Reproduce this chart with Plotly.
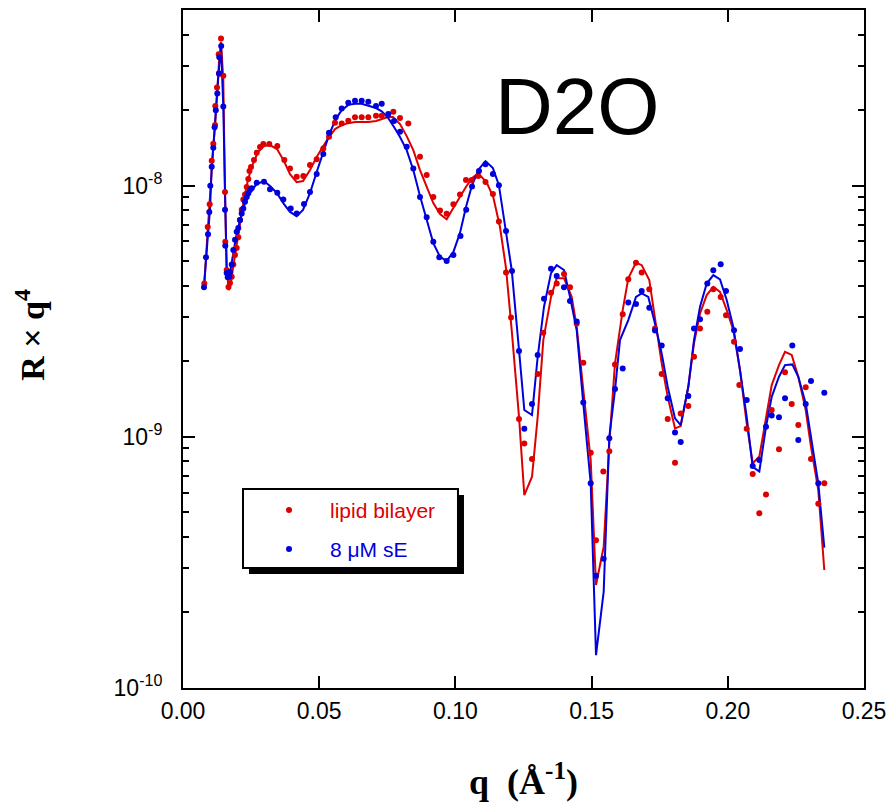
import plotly.graph_objects as go

# Reflectivity data, R x q^4 versus q (1/Å)
q_lipid = [0.00782, 0.00907, 0.00980, 0.01054, 0.01112, 0.01175, 0.01186, 0.01248, 0.01311, 0.01322,
           0.01395, 0.01479, 0.01542, 0.01553, 0.01604, 0.01670, 0.01725, 0.01788, 0.01847, 0.01909,
           0.01971, 0.02030, 0.02093, 0.02155, 0.02214, 0.02276, 0.02339, 0.02397, 0.02441, 0.02497,
           0.02606, 0.02706, 0.02827, 0.02948, 0.03168, 0.03462, 0.03719, 0.03928, 0.04174, 0.04416,
           0.04662, 0.04908, 0.05150, 0.05360, 0.05580, 0.05826, 0.06068, 0.06314, 0.06560, 0.06803,
           0.07085, 0.07295, 0.07720, 0.07966, 0.08271, 0.08700, 0.08946, 0.09189, 0.09435, 0.09680,
           0.09926, 0.10169, 0.10389, 0.10598, 0.10840, 0.11105, 0.11377, 0.11597, 0.11858, 0.12041,
           0.12335, 0.12530, 0.12812, 0.13021, 0.13227, 0.13510, 0.13719, 0.13987, 0.14207, 0.14453,
           0.14695, 0.14967, 0.15162, 0.15430, 0.15650, 0.15859, 0.16142, 0.16347, 0.16630, 0.16839,
           0.17118, 0.17327, 0.17573, 0.17794, 0.18062, 0.18271, 0.18550, 0.18759, 0.18980, 0.19248,
           0.19468, 0.19739, 0.19934, 0.20228, 0.20422, 0.20694, 0.20914, 0.21157, 0.21402, 0.21612,
           0.21879, 0.22100, 0.22346, 0.22588, 0.22860, 0.23054, 0.23322, 0.23543]
r_lipid = [4.08e-9, 6.86e-9, 8.45e-9, 1.258e-8, 1.47e-8, 1.745e-8, 2.08e-8, 2.46e-8, 3.34e-8, 2.80e-8,
           3.86e-8, 2.74e-8, 9.45e-9, 5.98e-9, 4.62e-9, 3.95e-9, 4.10e-9, 4.34e-9, 4.86e-9, 5.30e-9,
           5.65e-9, 6.24e-9, 7.30e-9, 8.02e-9, 8.82e-9, 9.24e-9, 9.89e-9, 1.063e-8, 1.144e-8, 1.187e-8,
           1.266e-8, 1.353e-8, 1.426e-8, 1.466e-8, 1.466e-8, 1.439e-8, 1.266e-8, 1.173e-8, 1.086e-8, 1.093e-8,
           1.209e-8, 1.274e-8, 1.409e-8, 1.567e-8, 1.782e-8, 1.772e-8, 1.815e-8, 1.873e-8, 1.873e-8, 1.873e-8,
           1.90e-8, 1.90e-8, 1.97e-8, 1.86e-8, 1.772e-8, 1.305e-8, 1.103e-8, 9.03e-9, 7.97e-9, 7.74e-9,
           8.44e-9, 9.24e-9, 1.054e-8, 1.054e-8, 1.093e-8, 1.036e-8, 9.27e-9, 7.20e-9, 4.52e-9, 2.99e-9,
           1.177e-9, 9.41e-10, 8.17e-10, 1.78e-9, 2.60e-9, 3.75e-9, 4.08e-9, 4.45e-9, 3.94e-9, 2.83e-9,
           1.974e-9, 8.64e-10, 3.88e-10, 7.28e-10, 8.77e-10, 1.944e-9, 3.08e-9, 4.24e-9, 4.94e-9, 4.52e-9,
           3.87e-9, 2.70e-9, 1.78e-9, 1.177e-9, 7.88e-10, 1.24e-9, 1.326e-9, 2.085e-9, 2.70e-9, 3.15e-9,
           3.87e-9, 3.61e-9, 3.05e-9, 2.39e-9, 1.608e-9, 1.077e-9, 7.11e-10, 4.96e-10, 5.90e-10, 1.279e-9,
           8.93e-10, 1.807e-9, 1.351e-9, 1.114e-9, 1.575e-9, 8.17e-10, 5.42e-10, 6.53e-10]

q_se = [0.00771, 0.00844, 0.00918, 0.00965, 0.01002, 0.01054, 0.01112, 0.01160, 0.01205, 0.01259,
        0.01322, 0.01333, 0.01402, 0.01479, 0.01542, 0.01553, 0.01604, 0.01641, 0.01700, 0.01725,
        0.01788, 0.01847, 0.01909, 0.01971, 0.02030, 0.02093, 0.02155, 0.02214, 0.02276, 0.02339,
        0.02397, 0.02460, 0.02522, 0.02706, 0.02974, 0.03194, 0.03462, 0.03682, 0.03954, 0.04174,
        0.04442, 0.04662, 0.04908, 0.05150, 0.05360, 0.05606, 0.05826, 0.06068, 0.06314, 0.06560,
        0.06803, 0.07085, 0.07295, 0.07536, 0.07746, 0.07966, 0.08212, 0.08454, 0.08700, 0.08946,
        0.09189, 0.09409, 0.09680, 0.09926, 0.10187, 0.10396, 0.10610, 0.10866, 0.11105, 0.11377,
        0.11597, 0.11858, 0.12078, 0.12335, 0.12530, 0.12812, 0.13021, 0.13253, 0.13510, 0.13719,
        0.13987, 0.14207, 0.14453, 0.14695, 0.14967, 0.15162, 0.15444, 0.15650, 0.15859, 0.16142,
        0.16347, 0.16630, 0.16839, 0.17118, 0.17327, 0.17573, 0.17794, 0.18062, 0.18271, 0.18550,
        0.18759, 0.18980, 0.19248, 0.19468, 0.19739, 0.19934, 0.20228, 0.20448, 0.20694, 0.20914,
        0.21157, 0.21402, 0.21612, 0.21879, 0.22100, 0.22368, 0.22588, 0.22860, 0.23054, 0.23322,
        0.23543]
r_se = [3.94e-9, 5.19e-9, 6.41e-9, 7.87e-9, 1.00e-8, 1.19e-8, 1.417e-8, 1.71e-8, 2.00e-8, 2.33e-8,
        2.80e-8, 3.25e-8, 3.60e-8, 2.07e-8, 8.02e-9, 5.77e-9, 4.49e-9, 4.32e-9, 4.34e-9, 4.54e-9,
        4.86e-9, 5.55e-9, 6.09e-9, 6.56e-9, 6.79e-9, 7.30e-9, 7.76e-9, 8.12e-9, 8.63e-9, 9.03e-9,
        9.33e-9, 9.62e-9, 9.77e-9, 1.028e-8, 1.037e-8, 9.68e-9, 9.38e-9, 8.82e-9, 8.12e-9, 7.76e-9,
        8.46e-9, 9.45e-9, 1.113e-8, 1.337e-8, 1.627e-8, 1.873e-8, 2.03e-8, 2.14e-8, 2.18e-8, 2.18e-8,
        2.16e-8, 2.08e-8, 2.12e-8, 1.93e-8, 1.81e-8, 1.64e-8, 1.43e-8, 1.173e-8, 9.03e-9, 7.49e-9,
        5.98e-9, 5.19e-9, 5.02e-9, 5.30e-9, 6.31e-9, 8.02e-9, 9.94e-9, 1.144e-8, 1.217e-8, 1.113e-8,
        1.005e-8, 6.60e-9, 4.58e-9, 2.20e-9, 1.077e-9, 1.351e-9, 2.12e-9, 3.55e-9, 4.67e-9, 4.37e-9,
        3.94e-9, 3.48e-9, 2.88e-9, 1.372e-9, 6.53e-10, 2.80e-10, 3.27e-10, 9.87e-10, 1.55e-9, 1.874e-9,
        3.43e-9, 3.38e-9, 3.81e-9, 3.27e-9, 2.65e-9, 2.31e-9, 1.424e-9, 1.042e-9, 9.55e-10, 1.454e-9,
        2.70e-9, 2.94e-9, 4.08e-9, 4.61e-9, 4.87e-9, 3.81e-9, 2.66e-9, 2.24e-9, 1.401e-9, 7.66e-10,
        8.09e-10, 1.097e-9, 1.218e-9, 1.196e-9, 1.424e-9, 2.31e-9, 9.72e-10, 1.351e-9, 1.668e-9, 6.53e-10,
        1.50e-9]

# Model fits
q_lipid_fit = [0.00782, 0.00907, 0.00980, 0.01054, 0.01112, 0.01175, 0.01248, 0.01322, 0.01395, 0.01479,
               0.01542, 0.01604, 0.01678, 0.01744, 0.01835, 0.01946, 0.02093, 0.02239, 0.02386, 0.02533,
               0.02753, 0.02974, 0.03194, 0.03451, 0.03708, 0.03928, 0.04174, 0.04405, 0.04662, 0.04908,
               0.05150, 0.05360, 0.05580, 0.05826, 0.06068, 0.06314, 0.06560, 0.06803, 0.07085, 0.07295,
               0.07526, 0.07709, 0.07966, 0.08212, 0.08454, 0.08700, 0.08946, 0.09189, 0.09435, 0.09680,
               0.09923, 0.10169, 0.10408, 0.10657, 0.10840, 0.11142, 0.11390, 0.11637, 0.11858, 0.12067,
               0.12335, 0.12530, 0.12812, 0.13021, 0.13227, 0.13510, 0.13719, 0.13987, 0.14269, 0.14453,
               0.14695, 0.14967, 0.15162, 0.15444, 0.15650, 0.15859, 0.16142, 0.16347, 0.16630, 0.16839,
               0.17118, 0.17327, 0.17573, 0.17794, 0.18062, 0.18271, 0.18550, 0.18759, 0.18980, 0.19226,
               0.19468, 0.19714, 0.19960, 0.20202, 0.20448, 0.20694, 0.20914, 0.21157, 0.21402, 0.21612,
               0.21879, 0.22100, 0.22346, 0.22588, 0.22860, 0.23054, 0.23322, 0.23543]
r_lipid_fit = [4.10e-9, 6.79e-9, 8.45e-9, 1.243e-8, 1.439e-8, 1.728e-8, 2.36e-8, 3.11e-8, 3.74e-8, 2.64e-8,
               9.24e-9, 4.70e-9, 3.84e-9, 4.03e-9, 4.70e-9, 5.65e-9, 7.14e-9, 8.86e-9, 1.054e-8, 1.198e-8,
               1.362e-8, 1.439e-8, 1.453e-8, 1.400e-8, 1.254e-8, 1.113e-8, 1.034e-8, 1.044e-8, 1.155e-8, 1.301e-8,
               1.439e-8, 1.563e-8, 1.682e-8, 1.745e-8, 1.776e-8, 1.794e-8, 1.794e-8, 1.794e-8, 1.811e-8, 1.843e-8,
               1.877e-8, 1.877e-8, 1.760e-8, 1.577e-8, 1.387e-8, 1.155e-8, 9.89e-9, 8.53e-9, 7.71e-9, 7.36e-9,
               8.16e-9, 9.01e-9, 9.98e-9, 1.083e-8, 1.118e-8, 1.034e-8, 9.01e-9, 6.85e-9, 4.70e-9, 2.66e-9,
               1.202e-9, 5.86e-10, 6.94e-10, 1.202e-9, 2.43e-9, 3.61e-9, 4.28e-9, 4.28e-9, 3.61e-9, 2.74e-9,
               1.583e-9, 8.09e-10, 2.57e-10, 3.65e-10, 9.41e-10, 1.963e-9, 3.20e-9, 4.28e-9, 4.95e-9, 4.83e-9,
               4.21e-9, 2.92e-9, 1.963e-9, 1.444e-9, 1.081e-9, 1.104e-9, 1.583e-9, 2.36e-9, 3.10e-9, 3.67e-9,
               3.96e-9, 3.78e-9, 3.20e-9, 2.66e-9, 1.846e-9, 1.132e-9, 7.85e-10, 8.35e-10, 1.202e-9, 1.608e-9,
               1.932e-9, 2.18e-9, 2.12e-9, 1.736e-9, 1.279e-9, 9.13e-10, 6.14e-10, 2.95e-10]

q_se_fit = [0.00771, 0.00844, 0.00918, 0.00991, 0.01054, 0.01112, 0.01175, 0.01248, 0.01322, 0.01395,
            0.01479, 0.01542, 0.01604, 0.01670, 0.01725, 0.01835, 0.01946, 0.02093, 0.02276, 0.02460,
            0.02706, 0.02974, 0.03194, 0.03451, 0.03708, 0.03928, 0.04174, 0.04405, 0.04662, 0.04908,
            0.05150, 0.05360, 0.05606, 0.05826, 0.06068, 0.06314, 0.06560, 0.06803, 0.07085, 0.07295,
            0.07536, 0.07746, 0.07966, 0.08212, 0.08454, 0.08700, 0.08946, 0.09189, 0.09435, 0.09680,
            0.09923, 0.10169, 0.10389, 0.10610, 0.10866, 0.11105, 0.11377, 0.11597, 0.11847, 0.12067,
            0.12335, 0.12530, 0.12812, 0.13021, 0.13253, 0.13510, 0.13719, 0.13987, 0.14207, 0.14453,
            0.14695, 0.14967, 0.15162, 0.15444, 0.15650, 0.15859, 0.16042, 0.16347, 0.16630, 0.16839,
            0.17081, 0.17327, 0.17573, 0.17794, 0.18062, 0.18271, 0.18550, 0.18759, 0.18980, 0.19226,
            0.19468, 0.19714, 0.19960, 0.20202, 0.20448, 0.20694, 0.20914, 0.21157, 0.21402, 0.21612,
            0.21879, 0.22100, 0.22368, 0.22588, 0.22860, 0.23054, 0.23322, 0.23543]
r_se_fit = [3.95e-9, 5.21e-9, 6.43e-9, 8.02e-9, 1.187e-8, 1.413e-8, 1.713e-8, 2.30e-8, 2.94e-8, 3.57e-8,
            2.08e-8, 8.02e-9, 4.53e-9, 4.25e-9, 4.49e-9, 5.30e-9, 6.24e-9, 7.30e-9, 8.53e-9, 9.42e-9,
            1.016e-8, 1.044e-8, 9.98e-9, 9.35e-9, 8.45e-9, 7.87e-9, 7.57e-9, 8.02e-9, 9.35e-9, 1.134e-8,
            1.349e-8, 1.592e-8, 1.843e-8, 2.00e-8, 2.10e-8, 2.12e-8, 2.12e-8, 2.08e-8, 2.04e-8, 1.98e-8,
            1.86e-8, 1.713e-8, 1.563e-8, 1.387e-8, 1.155e-8, 9.10e-9, 7.30e-9, 5.91e-9, 5.21e-9, 5.02e-9,
            5.44e-9, 6.49e-9, 8.23e-9, 1.006e-8, 1.166e-8, 1.254e-8, 1.176e-8, 1.006e-8, 6.66e-9, 4.62e-9,
            2.22e-9, 1.279e-9, 1.221e-9, 2.085e-9, 3.30e-9, 4.49e-9, 4.83e-9, 4.62e-9, 3.61e-9, 2.66e-9,
            1.36e-9, 6.53e-10, 1.352e-10, 2.42e-10, 1.00e-9, 1.536e-9, 2.43e-9, 2.92e-9, 3.61e-9, 3.73e-9,
            3.61e-9, 2.83e-9, 2.15e-9, 1.583e-9, 1.185e-9, 1.114e-9, 1.583e-9, 2.43e-9, 3.30e-9, 4.08e-9,
            4.41e-9, 4.24e-9, 3.51e-9, 2.74e-9, 1.846e-9, 1.202e-9, 7.60e-10, 7.28e-10, 1.097e-9, 1.444e-9,
            1.736e-9, 1.932e-9, 1.944e-9, 1.736e-9, 1.36e-9, 1.00e-9, 6.53e-10, 3.62e-10]

series_names = ["lipid bilayer", "8 \u03bcM sE"]
series_colors = ["#dd0000", "#0000dd"]

x_tick_vals = [0.0, 0.05, 0.10, 0.15, 0.20, 0.25]
x_tick_text = ["0.00", "0.05", "0.10", "0.15", "0.20", "0.25"]
y_tick_vals = [1e-10, 1e-9, 1e-8]
y_tick_text = ["10<sup>-10</sup>", "10<sup>-9</sup>", "10<sup>-8</sup>"]
y_minor_vals = [m * 10.0 ** e for e in (-10, -9, -8) for m in range(2, 10)]

SANS = "Liberation Sans, Arial, Helvetica, sans-serif"
SERIF = "Liberation Serif, Times New Roman, serif"

fig = go.Figure()

# fitted curves
for qf, rf, col in [(q_lipid_fit, r_lipid_fit, series_colors[0]),
                    (q_se_fit, r_se_fit, series_colors[1])]:
    fig.add_trace(go.Scatter(x=qf, y=rf, mode="lines",
                             line=dict(color=col, width=2), showlegend=False,
                             hoverinfo="skip"))

# measured points
for qd, rd, col, name in [(q_lipid, r_lipid, series_colors[0], series_names[0]),
                          (q_se, r_se, series_colors[1], series_names[1])]:
    fig.add_trace(go.Scatter(x=qd, y=rd, mode="markers", name=name,
                             marker=dict(color=col, size=6, line=dict(width=0)),
                             showlegend=False))

# legend box: drop shadow + framed white panel (paper coordinates)
fig.add_shape(type="rect", xref="paper", yref="paper",
              x0=0.0969, x1=0.4126, y0=0.1681, y1=0.2847,
              fillcolor="black", line=dict(width=0), layer="below")
fig.add_shape(type="rect", xref="paper", yref="paper",
              x0=0.0881, x1=0.4038, y0=0.1770, y1=0.2935,
              fillcolor="white", line=dict(color="black", width=2), layer="below")

# legend swatches on an overlay axis spanning the plot area
legend_y = [0.2625, 0.2049]
for yy, col in zip(legend_y, series_colors):
    fig.add_trace(go.Scatter(x=[0.1557], y=[yy], mode="markers", xaxis="x2", yaxis="y2",
                             marker=dict(color=col, size=6), showlegend=False,
                             hoverinfo="skip"))
for yy, col, name in zip(legend_y, series_colors, series_names):
    fig.add_annotation(x=0.2129, y=yy, xref="paper", yref="paper", text=name,
                       showarrow=False, xanchor="left", yanchor="middle",
                       font=dict(family=SANS, size=21, color=col))

# panel label
fig.add_annotation(x=0.5795, y=0.8575, xref="paper", yref="paper", text="D2O",
                   showarrow=False, xanchor="center", yanchor="middle",
                   font=dict(family=SANS, size=80, color="black"))

# axis titles
fig.add_annotation(x=0.5, y=-0.135, xref="paper", yref="paper",
                   text="<b>q  (\u00c5<sup>-1</sup>)</b>", showarrow=False,
                   xanchor="center", yanchor="middle",
                   font=dict(family=SERIF, size=36, color="black"))
fig.add_annotation(x=-0.225, y=0.5206, xref="paper", yref="paper",
                   text="<b>R \u00d7 q<sup>4</sup></b>", showarrow=False, textangle=-90,
                   xanchor="center", yanchor="middle",
                   font=dict(family=SERIF, size=34, color="black"))

fig.update_layout(
    width=888, height=806,
    margin=dict(l=183, r=24, t=10, b=118, autoexpand=False),
    paper_bgcolor="white", plot_bgcolor="white",
    xaxis=dict(range=[0, 0.25], tickvals=x_tick_vals, ticktext=x_tick_text,
               ticks="inside", ticklen=12, tickwidth=2, tickcolor="black",
               showline=True, linewidth=2, linecolor="black", mirror="allticks",
               showgrid=False, zeroline=False, ticklabelstandoff=1, automargin=False,
               tickfont=dict(family=SANS, size=23, color="black")),
    yaxis=dict(type="log", range=[-10, -7.3], tickvals=y_tick_vals, ticktext=y_tick_text,
               ticks="inside", ticklen=12, tickwidth=2, tickcolor="black",
               minor=dict(tickvals=y_minor_vals, ticks="inside", ticklen=6,
                          tickwidth=1.5, tickcolor="black", showgrid=False),
               showline=True, linewidth=2, linecolor="black", mirror="allticks",
               showgrid=False, zeroline=False, ticklabelstandoff=14, automargin=False,
               tickfont=dict(family=SANS, size=23, color="black")),
    xaxis2=dict(overlaying="x", range=[0, 1], visible=False),
    yaxis2=dict(overlaying="y", range=[0, 1], visible=False),
    showlegend=False,
)

fig.write_html("out.html")
